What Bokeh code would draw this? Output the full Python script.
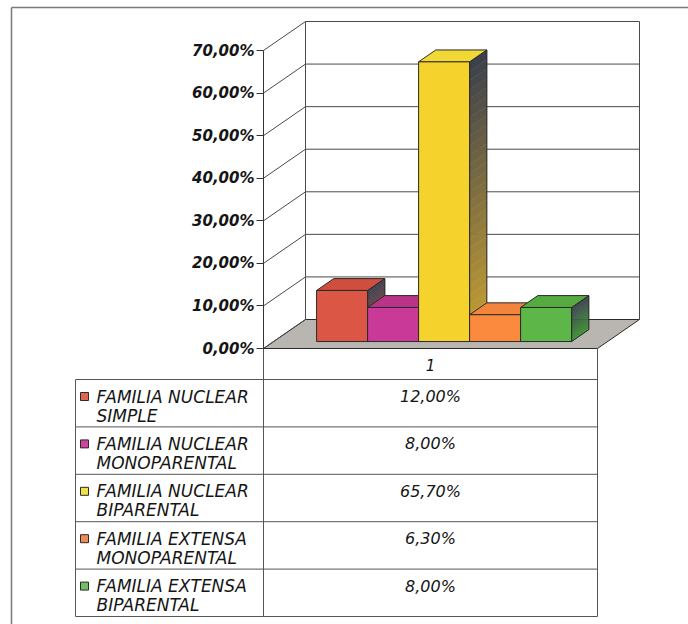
from bokeh.plotting import figure
from bokeh.models import Range1d, LinearAxis, FixedTicker
from bokeh.embed import file_html
from bokeh.resources import INLINE
from bokeh.core.properties import value

# ---------------- data ----------------
categories = [
    "FAMILIA NUCLEAR SIMPLE",
    "FAMILIA NUCLEAR MONOPARENTAL",
    "FAMILIA NUCLEAR BIPARENTAL",
    "FAMILIA EXTENSA MONOPARENTAL",
    "FAMILIA EXTENSA BIPARENTAL",
]
values = [12.0, 8.0, 65.7, 6.3, 8.0]
series_label = "1"
y_ticks = [0, 10, 20, 30, 40, 50, 60, 70]
y_tick_labels = ["0,00%", "10,00%", "20,00%", "30,00%", "40,00%", "50,00%", "60,00%", "70,00%"]

# ---------------- styles ----------------
front_colors = ["#dc5646", "#c93a98", "#f5d22c", "#fb8a3e", "#5db648"]
top_colors = ["#cf4e3e", "#bb3389", "#f2d834", "#f2843c", "#55ab40"]
side_colors = ["#b4443a", "#9c2a78", "#c9a233", "#c86a30", "#3f9434"]
side_dark = "#3a3f4c"
key_colors = ["#e06454", "#d0449e", "#efe246", "#ef8a54", "#72c062"]
edge = "#2a2a2a"
grid_col = "#4a4a4a"

# ---------------- layout (page pixels) ----------------
W, H = 688, 624
AX_X = 263          # y-axis line
Y0_PX, Y70_PX = 348, 50
K = (Y0_PX - Y70_PX) / 70.0   # px per percent
DEPTH_DX, DEPTH_DY = 42, 29
FLOOR_W = 334
F0, F1 = 0.24, 0.65           # bar depth fractions
BAR_GAP, BAR_W = 43, 51

TABLE_L, TABLE_R = 75, 597
ROW_TOP = 379
ROW_H = 47.4
FRAME_L, FRAME_T = 11, 7

pct_lo = -(H - Y0_PX) / K
pct_hi = Y0_PX / K
dz = DEPTH_DY / K

p = figure(width=W, height=H, output_backend="svg", toolbar_location=None,
           x_range=Range1d(0, W), y_range=Range1d(start=H, end=0),
           x_axis_location=None, y_axis_location=None, min_border=0)
p.extra_y_ranges = {"pct": Range1d(start=pct_lo, end=pct_hi)}
p.grid.visible = False
p.background_fill_color = "white"
p.border_fill_color = "white"
p.outline_line_color = None

# outer frame (left and top edges visible in the scan)
p.segment(x0=[FRAME_L, FRAME_L], y0=[FRAME_T, FRAME_T], x1=[FRAME_L, W], y1=[H, FRAME_T],
          line_color="#7a7a7a", line_width=1.5)

# ---------------- walls & floor ----------------
back_l = AX_X + DEPTH_DX
back_r = back_l + FLOOR_W
top_v = y_ticks[-1]

p.patch([AX_X, AX_X + FLOOR_W, back_r, back_l], [0, 0, dz, dz], y_range_name="pct",
        fill_color="#b9b5b1", line_color=edge, line_width=1)

p.segment(x0=[AX_X] * len(y_ticks), y0=y_ticks, x1=[back_l] * len(y_ticks),
          y1=[t + dz for t in y_ticks], y_range_name="pct", line_color=grid_col, line_width=1)
p.segment(x0=[back_l] * (len(y_ticks) - 1), y0=[t + dz for t in y_ticks[1:]],
          x1=[back_r] * (len(y_ticks) - 1), y1=[t + dz for t in y_ticks[1:]],
          y_range_name="pct", line_color=grid_col, line_width=1)
p.segment(x0=[back_l, back_r], y0=[dz, dz], x1=[back_l, back_r], y1=[top_v + dz, top_v + dz],
          y_range_name="pct", line_color=grid_col, line_width=1)


# ---------------- bars ----------------
def mix(c1, c2, t):
    a = [int(c1[i:i + 2], 16) for i in (1, 3, 5)]
    b = [int(c2[i:i + 2], 16) for i in (1, 3, 5)]
    return "#%02x%02x%02x" % tuple(int(round(a[k] + (b[k] - a[k]) * t)) for k in range(3))


ddx = (F1 - F0) * DEPTH_DX
ddz = (F1 - F0) * dz
yb = F0 * dz
N = 30

front_xs, front_ys, top_xs, top_ys, side_xs, side_ys = [], [], [], [], [], []
band_xs, band_ys, band_cols = [], [], []
for i, v in enumerate(values):
    xl = AX_X + F0 * DEPTH_DX + BAR_GAP + i * BAR_W
    xr = xl + BAR_W
    yt = yb + v
    front_xs.append([xl, xr, xr, xl]); front_ys.append([yb, yb, yt, yt])
    top_xs.append([xl, xr, xr + ddx, xl + ddx]); top_ys.append([yt, yt, yt + ddz, yt + ddz])
    side_xs.append([xr, xr + ddx, xr + ddx, xr]); side_ys.append([yb, yb + ddz, yt + ddz, yt])
    for j in range(N):
        ya = yb + v * j / N
        yc = yb + v * (j + 1) / N
        band_xs.append([xr, xr + ddx, xr + ddx, xr])
        band_ys.append([ya, ya + ddz, yc + ddz, yc])
        band_cols.append(mix(side_colors[i], side_dark, (j + 0.5) / N))

p.patches(band_xs, band_ys, y_range_name="pct", fill_color=band_cols, line_color=band_cols, line_width=0.5)
p.patches(side_xs, side_ys, y_range_name="pct", fill_color=None, line_color=edge, line_width=1)
p.patches(top_xs, top_ys, y_range_name="pct", fill_color=top_colors, line_color=edge, line_width=1)
p.patches(front_xs, front_ys, y_range_name="pct", fill_color=front_colors, line_color=edge, line_width=1)

# ---------------- y axis ----------------
ax = LinearAxis(y_range_name="pct", fixed_location=AX_X, ticker=FixedTicker(ticks=y_ticks),
                major_label_overrides=dict(zip(y_ticks, y_tick_labels)), bounds=(0, top_v))
ax.minor_tick_line_color = None
ax.major_tick_in = 0
ax.major_tick_out = 7
ax.major_label_standoff = 2
ax.axis_line_color = "#333333"
ax.major_tick_line_color = "#333333"
ax.major_label_text_font = "DejaVu Sans"
ax.major_label_text_font_style = "bold italic"
ax.major_label_text_font_size = "15px"
ax.major_label_text_color = "#151515"
p.add_layout(ax, "left")

# ---------------- data table ----------------
n = len(categories)
row_tops = [ROW_TOP + r * ROW_H for r in range(n + 1)]
table_bot = row_tops[-1]
mid_x = (AX_X + TABLE_R) / 2.0

p.segment(x0=[TABLE_L] * (n + 1), y0=row_tops, x1=[TABLE_R] * (n + 1), y1=row_tops,
          line_color="#555555", line_width=1)
p.segment(x0=[TABLE_L, AX_X, TABLE_R], y0=[ROW_TOP, Y0_PX, Y0_PX],
          x1=[TABLE_L, AX_X, TABLE_R], y1=[table_bot, table_bot, table_bot],
          line_color="#555555", line_width=1)

p.text(x=[mid_x], y=[(Y0_PX + ROW_TOP) / 2.0 + 1], text=[series_label],
       text_font=value("DejaVu Sans"), text_font_style="italic", text_font_size="15px",
       text_align="center", text_baseline="middle", text_color="#151515")

line1 = [c.rsplit(" ", 1)[0] for c in categories]
line2 = [c.rsplit(" ", 1)[1] for c in categories]
val_txt = [("%.2f" % v).replace(".", ",") + "%" for v in values]
y1s = [t + 17 for t in row_tops[:-1]]
y2s = [t + 36 for t in row_tops[:-1]]

p.rect(x=[84] * n, y=[t + 17 for t in row_tops[:-1]], width=8, height=8,
       fill_color=key_colors, line_color=edge, line_width=1)
p.text(x=[96] * n, y=y1s, text=line1, text_font=value("DejaVu Sans"), text_font_style="italic",
       text_font_size="17px", text_baseline="middle", text_color="#151515")
p.text(x=[96] * n, y=y2s, text=line2, text_font=value("DejaVu Sans"), text_font_style="italic",
       text_font_size="17px", text_baseline="middle", text_color="#151515")
p.text(x=[mid_x] * n, y=y1s, text=val_txt, text_font=value("DejaVu Sans"), text_font_style="italic",
       text_font_size="16px", text_align="center", text_baseline="middle", text_color="#151515")

open("out.html", "w").write(file_html(p, INLINE))
